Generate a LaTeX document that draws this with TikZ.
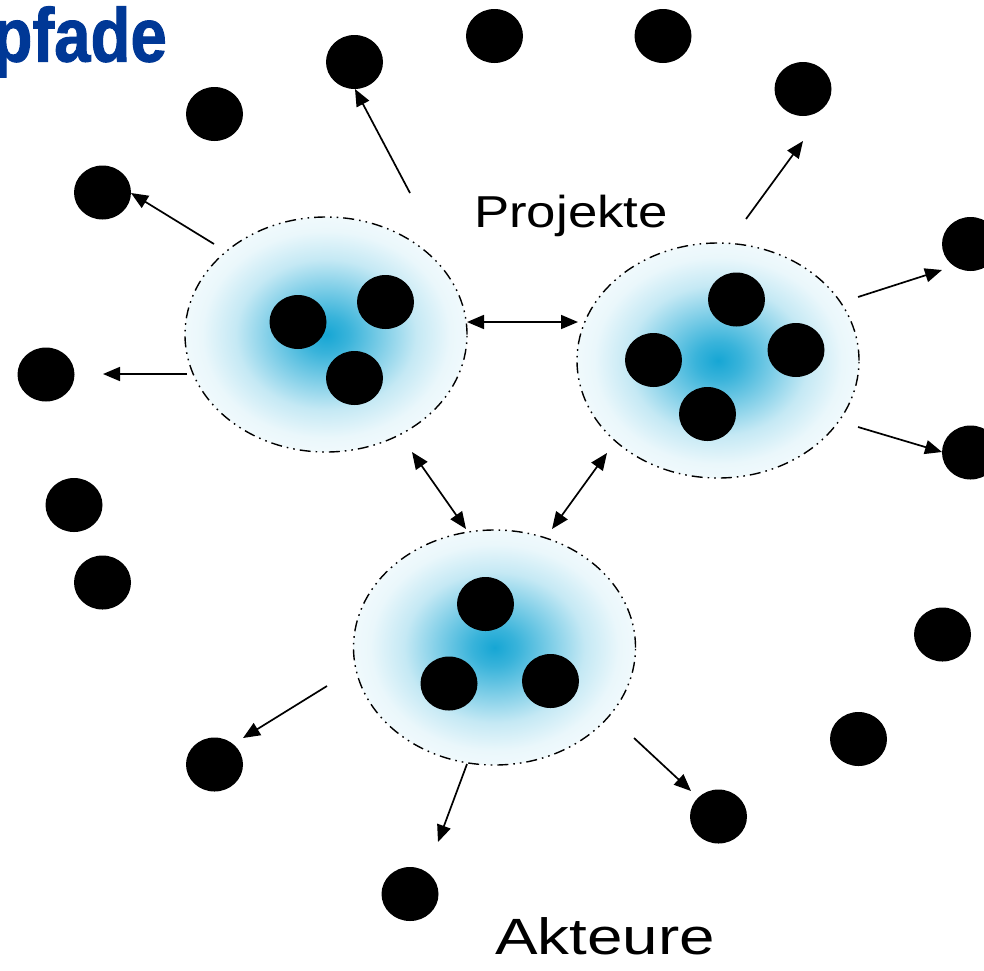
\documentclass[tikz,border=0pt]{standalone}
\usepackage{fontspec}
\setmainfont{Liberation Sans}
\newfontfamily\titlefont[BoldFeatures={FakeBold=1.5}]{Liberation Sans}
\usetikzlibrary{arrows.meta,shapes.geometric}
\definecolor{blobc}{RGB}{22,166,212}
\definecolor{titleblue}{RGB}{0,56,150}
\pgfdeclareradialshading{blob}{\pgfpoint{0bp}{0bp}}{color(0bp)=(blobc); color(4bp)=(blobc!85!white); color(10bp)=(blobc!55!white); color(16bp)=(blobc!25!white); color(22bp)=(blobc!9!white); color(29bp)=(blobc!3!white); color(35bp)=(white); color(50bp)=(white)}
\tikzset{
  dot/.style={ellipse, fill=black, minimum width=57pt, minimum height=54pt, inner sep=0pt},
  cluster/.style={ellipse, minimum width=282pt, minimum height=235pt, inner sep=0pt, draw=black, line width=1.4pt,
    dash pattern=on 11pt off 5pt on 1.6pt off 5pt on 1.6pt off 5pt, shading=blob},
  arr/.style={line width=1.7pt, -{Triangle[length=17pt,width=14pt]}},
  darr/.style={line width=1.7pt, {Triangle[length=17pt,width=14pt]}-{Triangle[length=17pt,width=14pt]}},
  lbl/.style={inner sep=0pt, text=black}
}
\begin{document}
\begin{tikzpicture}[x=1pt,y=-1pt]
\useasboundingbox (0,0) rectangle (984,970);
\clip (0,0) rectangle (984,970);
\fill[white] (0,0) rectangle (984,970);

% title (clipped at the left edge)
\node[lbl, anchor=base east, text=titleblue, font=\fontsize{76}{80}\titlefont\bfseries, xscale=0.86] (title) at (167,61.5) {pfade};

% clusters
\node[cluster] (L) at (326,334.5) {};
\node[cluster] (R) at (718,360.5) {};
\node[cluster] (B) at (494.5,647.5) {};

% inner dots
\node[dot] (l1) at (298,322) {};
\node[dot] (l2) at (385.5,302) {};
\node[dot] (l3) at (354.5,378) {};
\node[dot] (r1) at (736.5,299.5) {};
\node[dot] (r2) at (653.5,360) {};
\node[dot] (r3) at (796,350) {};
\node[dot] (r4) at (707.5,414) {};
\node[dot] (b1) at (485.5,604) {};
\node[dot] (b2) at (449,683.5) {};
\node[dot] (b3) at (550.5,681) {};

% outer dots
\node[dot] (o1) at (354.5,62) {};
\node[dot] (o2) at (494.5,36) {};
\node[dot] (o3) at (663,36) {};
\node[dot] (o4) at (214.5,114) {};
\node[dot] (o5) at (803,89) {};
\node[dot] (o6) at (102.5,192.5) {};
\node[dot] (o7) at (970.5,244) {};
\node[dot] (o8) at (46,374.5) {};
\node[dot] (o9) at (74,505) {};
\node[dot] (o10) at (102.5,582.5) {};
\node[dot] (o11) at (970.5,452.5) {};
\node[dot] (o12) at (942.5,634.5) {};
\node[dot] (o13) at (858.5,739) {};
\node[dot] (o14) at (214.5,764.5) {};
\node[dot] (o15) at (718.5,816.5) {};
\node[dot] (o16) at (410,894) {};

% arrow ends
\coordinate (t1) at (410,193);  \coordinate (h1) at (355,89);
\coordinate (t2) at (214,244);  \coordinate (h2) at (131,193);
\coordinate (t3) at (187,374);  \coordinate (h3) at (103,374);
\coordinate (t4) at (746,219);  \coordinate (h4) at (803,141);
\coordinate (t5) at (858,297);  \coordinate (h5) at (942,270);
\coordinate (t6) at (858,427);  \coordinate (h6) at (942,452);
\coordinate (t7) at (327,686);  \coordinate (h7) at (243,738);
\coordinate (t8) at (467,764);  \coordinate (h8) at (438,842);
\coordinate (t9) at (634,738);  \coordinate (h9) at (691,791);
\coordinate (LRa) at (467,322); \coordinate (LRb) at (578,322);
\coordinate (LBa) at (412,452); \coordinate (LBb) at (466,529);
\coordinate (RBa) at (607,453); \coordinate (RBb) at (552,529);

\draw[arr] (t1) -- (h1);
\draw[arr] (t2) -- (h2);
\draw[arr] (t3) -- (h3);
\draw[arr] (t4) -- (h4);
\draw[arr] (t5) -- (h5);
\draw[arr] (t6) -- (h6);
\draw[arr] (t7) -- (h7);
\draw[arr] (t8) -- (h8);
\draw[arr] (t9) -- (h9);
\draw[darr] (LRa) -- (LRb);
\draw[darr] (LBa) -- (LBb);
\draw[darr] (RBa) -- (RBb);

% labels
\node[lbl, anchor=base west, font=\fontsize{44.7}{50}\selectfont, xscale=1.18] (proj) at (474,227) {Projekte};
\node[lbl, anchor=base west, font=\fontsize{51}{56}\selectfont, xscale=1.25] (akt) at (495,954.5) {Akteure};
\end{tikzpicture}
\end{document}
